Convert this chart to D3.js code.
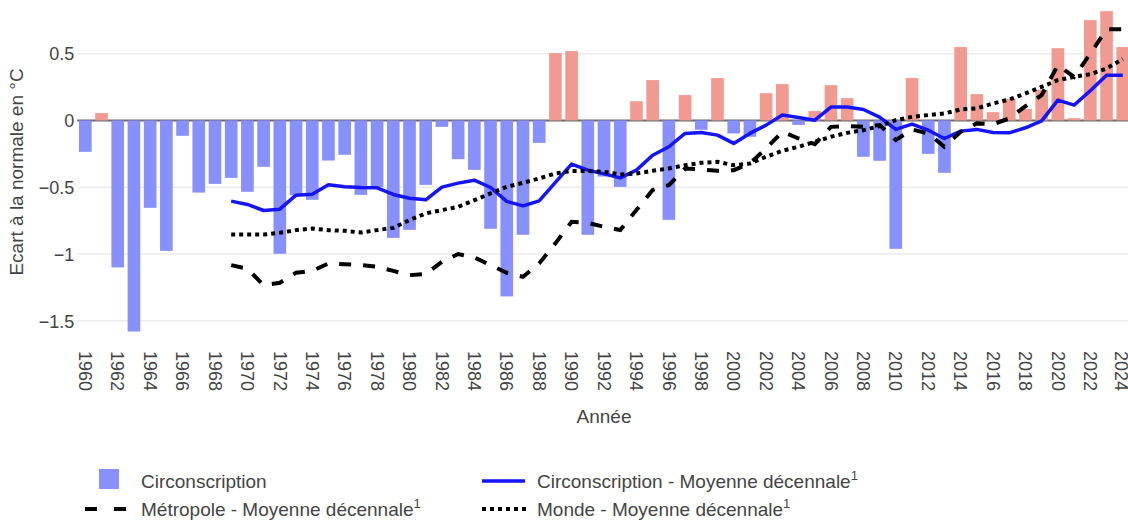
<!DOCTYPE html>
<html lang="fr">
<head>
<meta charset="utf-8">
<script src="https://cdn.jsdelivr.net/npm/d3@7"></script>
<style>
  html, body { margin: 0; padding: 0; background: #fff; }
  svg { display: block; font-family: "Liberation Sans", Arial, sans-serif; }
</style>
</head>
<body>
<svg id="chart" width="1128" height="523"></svg>
<script>
// Années 1960 à 2024
const years = d3.range(1960, 2025);

// Écart annuel à la normale (°C) pour la circonscription
const circAnnual = [
  -0.235, 0.055, -1.10, -1.58, -0.654, -0.976, -0.115, -0.54, -0.475, -0.43,
  -0.534, -0.347, -0.998, -0.56, -0.594, -0.30, -0.257, -0.557, -0.50, -0.879,
  -0.819, -0.482, -0.048, -0.29, -0.37, -0.811, -1.317, -0.856, -0.168, 0.504,
  0.519, -0.856, -0.42, -0.497, 0.144, 0.302, -0.744, 0.19, -0.07, 0.317,
  -0.097, -0.122, 0.204, 0.272, -0.033, 0.07, 0.264, 0.167, -0.272, -0.302,
  -0.961, 0.317, -0.25, -0.392, 0.549, 0.197, 0.062, 0.162, 0.085, 0.229,
  0.541, 0.017, 0.751, 0.818, 0.549
];

// Moyennes décennales glissantes, de 1969 à 2024
const meanYears = d3.range(1969, 2025);
const circDecadal = [
  -0.604, -0.629, -0.674, -0.664, -0.559, -0.552, -0.482, -0.497, -0.502, -0.504,
  -0.554, -0.582, -0.594, -0.499, -0.469, -0.447, -0.502, -0.606, -0.639, -0.602,
  -0.464, -0.327, -0.372, -0.40, -0.43, -0.372, -0.26, -0.197, -0.097, -0.09,
  -0.11, -0.172, -0.097, -0.035, 0.04, 0.022, 0.002, 0.1, 0.1, 0.082,
  0.025, -0.067, -0.028, -0.073, -0.135, -0.08, -0.067, -0.09, -0.093, -0.055,
  -0.003, 0.152, 0.115, 0.222, 0.339, 0.339
];
const metroDecadal = [
  -1.083, -1.11, -1.233, -1.215, -1.14, -1.126, -1.07, -1.076, -1.083, -1.095,
  -1.126, -1.158, -1.15, -1.058, -1.0, -1.025, -1.083, -1.14, -1.17, -1.07,
  -0.92, -0.759, -0.766, -0.796, -0.82, -0.67, -0.52, -0.484, -0.36, -0.367,
  -0.377, -0.372, -0.322, -0.21, -0.085, -0.135, -0.177, -0.048, -0.043, -0.048,
  -0.035, -0.147, -0.067, -0.097, -0.197, -0.085, -0.022, -0.028, 0.015, 0.107,
  0.19, 0.414, 0.326, 0.5, 0.683, 0.683
];
const worldDecadal = [
  -0.854, -0.854, -0.854, -0.841, -0.821, -0.809, -0.821, -0.826, -0.839, -0.821,
  -0.804, -0.746, -0.696, -0.671, -0.647, -0.597, -0.546, -0.497, -0.467, -0.434,
  -0.397, -0.379, -0.379, -0.385, -0.404, -0.397, -0.377, -0.359, -0.335, -0.317,
  -0.31, -0.335, -0.322, -0.272, -0.227, -0.197, -0.16, -0.122, -0.093, -0.073,
  -0.043, 0.002, 0.027, 0.04, 0.052, 0.082, 0.09, 0.127, 0.157, 0.202,
  0.251, 0.302, 0.326, 0.346, 0.389, 0.46
];

const yTicks = [0.5, 0, -0.5, -1, -1.5];
const xTickYears = years.filter(y => y % 2 === 0);

const svg = d3.select("#chart");
const W = 1128;
const plotLeft = 77.2, plotRight = 1130.85;
const textColor = "#444";

const x = d3.scaleBand()
  .domain(years)
  .range([plotLeft, plotRight])
  .paddingInner(0.22)
  .paddingOuter(0.11);

const y = d3.scaleLinear()
  .domain([-1.68, 0.9])
  .range([344.9, 0.2]);

const xc = yr => x(yr) + x.bandwidth() / 2;

const plot = svg.append("g");
svg.append("defs").append("clipPath").attr("id", "plotclip")
  .append("rect").attr("x", plotLeft).attr("y", 0).attr("width", W - plotLeft).attr("height", 346);

// Axe des ordonnées
const yAxis = d3.axisLeft(y).tickValues(yTicks).tickSize(0).tickPadding(0)
  .tickFormat(d => d3.format("")(d).replace("-", "\u2212"));
const gy = svg.append("g").attr("transform", `translate(${plotLeft - 3},0)`).call(yAxis);
gy.select(".domain").remove();
gy.selectAll("text")
  .attr("fill", textColor)
  .attr("font-size", 18)
  .attr("font-family", "Liberation Sans, Arial, sans-serif")
  .attr("dy", "0.35em");

// Lignes de grille horizontales
plot.append("g").selectAll("line").data(yTicks.filter(d => d !== 0)).join("line")
  .attr("x1", plotLeft).attr("x2", W)
  .attr("y1", d => y(d)).attr("y2", d => y(d))
  .attr("stroke", "#ebebeb").attr("stroke-width", 1.5);

// Ligne du zéro
plot.append("line")
  .attr("x1", plotLeft).attr("x2", W)
  .attr("y1", y(0)).attr("y2", y(0))
  .attr("stroke", "#6a6a6a").attr("stroke-width", 2);

// Barres annuelles : bleu sous la normale, rose au-dessus
const clipped = svg.append("g").attr("clip-path", "url(#plotclip)");
clipped.append("g").selectAll("rect")
  .data(years.map((yr, i) => ({ yr, v: circAnnual[i] })))
  .join("rect")
  .attr("x", d => x(d.yr))
  .attr("width", x.bandwidth())
  .attr("y", d => y(Math.max(0, d.v)))
  .attr("height", d => Math.abs(y(d.v) - y(0)))
  .attr("fill", d => d.v >= 0 ? "#f09a91" : "#8790fd");

// Courbes des moyennes décennales
const line = d3.line().x(d => xc(d.yr)).y(d => y(d.v));
const series = arr => meanYears.map((yr, i) => ({ yr, v: arr[i] }));

clipped.append("path").datum(series(circDecadal))
  .attr("d", line).attr("fill", "none")
  .attr("stroke", "#1414ff").attr("stroke-width", 3.5).attr("stroke-linejoin", "round");

clipped.append("path").datum(series(metroDecadal))
  .attr("d", line).attr("fill", "none")
  .attr("stroke", "#000").attr("stroke-width", 4).attr("stroke-dasharray", "12,12");

clipped.append("path").datum(series(worldDecadal))
  .attr("d", line).attr("fill", "none")
  .attr("stroke", "#000").attr("stroke-width", 4).attr("stroke-dasharray", "4,4");

// Axe des abscisses : étiquettes verticales une année sur deux
const xAxis = d3.axisBottom(x).tickValues(xTickYears).tickSize(0).tickPadding(0);
const gx = svg.append("g").attr("transform", "translate(0,351)").call(xAxis);
gx.select(".domain").remove();
gx.selectAll("text")
  .attr("fill", textColor)
  .attr("font-size", 18)
  .attr("font-family", "Liberation Sans, Arial, sans-serif")
  .attr("text-anchor", "start")
  .attr("transform", "rotate(90)")
  .attr("x", 0).attr("y", 0)
  // la dernière étiquette, collée au bord droit, est légèrement rentrée
  .attr("dy", d => d === years[years.length - 1] ? "0.45em" : "0.35em");

// Titres des axes
svg.append("text")
  .attr("x", 604).attr("y", 423)
  .attr("text-anchor", "middle")
  .attr("font-size", 19).attr("fill", textColor)
  .text("Année");

svg.append("text")
  .attr("transform", "translate(23,172) rotate(-90)")
  .attr("text-anchor", "middle")
  .attr("font-size", 19).attr("fill", textColor)
  .text("Ecart à la normale en °C");

// Légende
const legend = svg.append("g").attr("font-size", 19).attr("fill", textColor);

function legendText(g, xPos, yPos, label, sup) {
  const t = g.append("text").attr("x", xPos).attr("y", yPos);
  t.append("tspan").text(label);
  if (sup) t.append("tspan").attr("font-size", 13).attr("dy", -8).text(sup);
}

legend.append("rect").attr("x", 99).attr("y", 469).attr("width", 20).attr("height", 20).attr("fill", "#8790fd");
legendText(legend, 141, 488, "Circonscription");

legend.append("line").attr("x1", 482).attr("x2", 525).attr("y1", 481).attr("y2", 481)
  .attr("stroke", "#1414ff").attr("stroke-width", 3.5);
legendText(legend, 537, 488, "Circonscription - Moyenne décennale", "1");

legend.append("line").attr("x1", 85).attr("x2", 127).attr("y1", 509).attr("y2", 509)
  .attr("stroke", "#000").attr("stroke-width", 4).attr("stroke-dasharray", "12,17");
legendText(legend, 141, 516, "Métropole - Moyenne décennale", "1");

legend.append("line").attr("x1", 482).attr("x2", 526).attr("y1", 509).attr("y2", 509)
  .attr("stroke", "#000").attr("stroke-width", 4).attr("stroke-dasharray", "4,4");
legendText(legend, 537, 516, "Monde - Moyenne décennale", "1");
</script>
</body>
</html>
